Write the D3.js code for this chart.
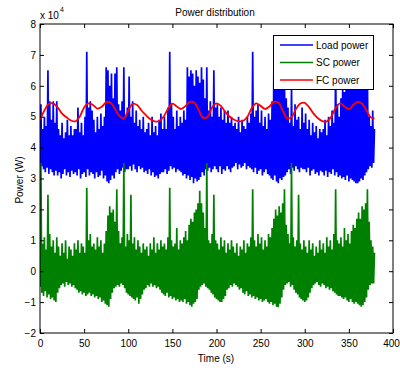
<!DOCTYPE html>
<html><head><meta charset="utf-8">
<script src="https://cdn.jsdelivr.net/npm/d3@7"></script>
<style>
body{margin:0;background:#fff;}
svg{display:block;font-family:"Liberation Sans",Arial,Helvetica,sans-serif;}
</style>
</head><body>
<svg id="chart" width="400" height="370"></svg>
<script>
// Values in units of 10^4 W; each 2-second bin gives a low and a high sample
const xTicks = [0, 50, 100, 150, 200, 250, 300, 350, 400];
const yTicks = [-2, -1, 0, 1, 2, 3, 4, 5, 6, 7, 8];
const seriesNames = ["Load power", "SC power", "FC power"];
const seriesColors = ["#0000ff", "#008000", "#ff0000"];

const loadLow = [
 3.5,3.4,3.3,3.2,3.35,3.15,3.3,3.2,3.1,3.25,
 3.1,3.2,3.0,3.15,3.3,3.1,3.2,3.05,3.25,3.15,
 3.2,3.1,3.3,3.0,3.15,3.2,3.05,3.3,3.1,3.2,
 3.15,3.0,3.2,3.05,3.1,3.25,3.0,3.1,2.9,2.85,
 2.95,3.1,3.0,3.2,3.3,3.15,3.25,3.35,3.2,3.3,
 3.3,3.4,3.25,3.45,3.3,3.2,3.4,3.3,3.35,3.2,
 3.25,3.15,3.3,3.1,3.2,3.05,3.1,3.0,3.15,3.2,
 3.2,3.3,3.15,3.25,3.4,3.3,3.35,3.2,3.3,3.25,
 3.2,3.1,3.15,3.0,3.1,2.95,3.05,2.85,3.0,2.9,
 2.95,3.05,3.2,3.1,3.3,3.25,3.35,3.2,3.3,3.4,
 3.3,3.2,3.4,3.15,3.3,3.25,3.4,3.3,3.2,3.35,
 3.4,3.5,3.3,3.45,3.35,3.4,3.5,3.3,3.4,3.35,
 3.3,3.2,3.35,3.15,3.25,3.3,3.1,3.2,3.3,3.15,
 3.1,3.0,2.95,3.1,2.9,2.85,3.0,2.95,3.05,3.1,
 3.2,3.3,3.15,3.35,3.25,3.4,3.3,3.2,3.35,3.3,
 3.3,3.2,3.35,3.1,3.25,3.3,3.15,3.2,3.1,3.25,
 3.2,3.1,3.25,3.05,3.2,3.15,3.3,3.1,3.2,3.05,
 3.1,3.0,3.05,2.95,3.1,2.9,3.0,2.95,2.9,2.85,
 2.85,2.9,3.0,2.95,3.1,3.2,3.3,3.4,3.35,3.5
];
const loadHigh = [
 5.4,4.6,5.0,4.7,6.5,5.5,4.9,5.5,4.8,5.5,
 4.6,4.4,4.8,4.3,4.5,4.9,4.4,4.7,4.4,4.6,
 4.6,5.3,4.5,4.8,4.4,5.0,7.1,5.3,5.5,5.2,
 4.9,4.5,5.0,4.6,5.1,4.7,5.0,6.6,6.5,6.0,
 6.4,5.6,6.4,6.6,5.4,5.2,5.5,6.6,5.0,5.3,
 6.3,5.0,5.5,4.8,5.2,4.7,4.9,4.6,5.0,4.5,
 4.6,4.8,4.4,5.0,4.5,4.7,4.4,4.9,5.1,4.6,
 5.0,4.6,5.3,7.1,5.4,5.0,4.6,5.2,4.7,5.0,
 4.8,5.2,4.9,6.6,6.3,6.5,6.4,6.0,6.5,6.3,
 6.1,6.6,6.2,5.6,6.6,5.2,5.5,5.0,6.5,5.3,
 5.4,5.0,5.3,4.9,5.2,4.8,5.2,4.8,5.0,4.7,
 4.8,4.6,5.0,4.5,4.9,4.7,4.6,5.0,4.8,5.1,
 7.1,5.0,5.2,5.4,4.8,5.2,4.7,5.0,4.6,5.1,
 4.9,5.5,6.6,6.0,6.4,6.2,6.5,5.9,6.3,5.6,
 5.3,4.8,6.0,4.7,5.4,4.9,5.0,4.6,5.3,4.8,
 5.1,4.6,4.9,4.4,4.8,4.5,4.7,4.3,4.6,4.5,
 4.6,4.9,4.4,5.0,4.7,5.2,4.8,6.8,5.4,5.0,
 5.6,6.0,5.8,6.4,6.1,6.6,6.2,6.5,6.3,6.6,
 6.4,6.2,6.5,6.0,5.9,6.3,5.0,4.7,5.2,4.6
];
const scLow = [
 -0.5,-0.7,-0.8,-0.65,-0.85,-0.75,-0.9,-0.85,-0.95,-1.0,
 -0.7,-0.55,-0.45,-0.4,-0.5,-0.35,-0.45,-0.4,-0.5,-0.45,
 -0.55,-0.6,-0.7,-0.65,-0.75,-0.7,-0.8,-0.75,-0.7,-0.8,
 -0.75,-0.85,-0.8,-0.9,-0.85,-1.0,-0.95,-1.05,-1.1,-1.15,
 -0.9,-0.7,-0.55,-0.5,-0.45,-0.5,-0.4,-0.45,-0.55,-0.7,
 -0.75,-0.8,-0.85,-0.9,-0.95,-0.85,-1.05,-0.9,-0.75,-0.6,
 -0.55,-0.45,-0.5,-0.4,-0.5,-0.45,-0.55,-0.5,-0.6,-0.7,
 -0.75,-0.8,-0.7,-0.85,-0.8,-0.9,-0.85,-0.95,-0.9,-1.0,
 -0.95,-1.0,-0.9,-1.05,-1.0,-1.1,-1.15,-1.05,-1.0,-0.9,
 -0.6,-0.5,-0.45,-0.4,-0.5,-0.55,-0.6,-0.7,-0.75,-0.85,
 -0.9,-0.95,-1.0,-1.0,-0.9,-0.8,-0.6,-0.55,-0.45,-0.5,
 -0.4,-0.45,-0.5,-0.6,-0.55,-0.7,-0.75,-0.65,-0.8,-0.75,
 -0.85,-0.8,-0.9,-0.85,-0.95,-0.9,-1.0,-0.95,-0.9,-1.0,
 -1.05,-1.0,-1.1,-1.05,-1.15,-1.17,-1.05,-0.85,-0.6,-0.45,
 -0.4,-0.35,-0.5,-0.45,-0.6,-0.7,-0.75,-0.85,-0.9,-0.95,
 -1.0,-0.95,-0.85,-0.7,-0.55,-0.45,-0.4,-0.35,-0.45,-0.5,
 -0.4,-0.45,-0.55,-0.5,-0.6,-0.55,-0.65,-0.7,-0.75,-0.8,
 -0.8,-0.85,-0.9,-0.85,-0.95,-1.0,-0.9,-1.0,-1.05,-1.0,
 -1.05,-1.1,-1.15,-1.1,-1.0,-0.85,-0.6,-0.45,-0.4,-0.4
];
const scHigh = [
 3.5,0.9,1.1,0.7,2.47,1.2,0.8,1.0,0.6,1.1,
 0.8,0.5,0.9,0.6,1.0,0.4,0.8,0.7,0.5,0.9,
 0.7,1.0,0.6,0.9,0.8,0.6,2.7,1.0,1.2,0.8,
 0.9,0.7,1.1,0.8,1.0,0.6,0.9,1.3,1.8,2.1,
 1.9,2.0,1.6,2.65,1.3,0.9,1.1,3.5,0.8,1.2,
 1.0,2.47,0.9,1.1,0.7,1.0,0.8,0.6,0.9,0.7,
 0.8,0.5,0.9,0.7,1.1,0.6,0.9,0.7,1.0,0.8,
 0.9,0.7,1.1,2.7,1.0,0.8,0.9,1.4,0.7,1.0,
 0.9,1.1,1.3,1.0,1.5,1.7,1.6,1.9,2.0,2.2,
 2.6,2.2,1.9,1.4,3.5,1.0,0.9,1.2,2.47,1.0,
 0.9,0.7,1.1,0.8,1.0,0.6,0.9,0.7,1.0,0.8,
 0.6,0.9,0.5,0.8,0.7,1.0,0.6,0.9,0.8,1.1,
 2.65,1.0,0.8,1.2,0.9,1.1,0.7,1.0,0.8,1.2,
 1.1,1.4,1.7,2.0,1.8,2.1,1.9,2.2,2.65,1.5,
 1.2,0.9,3.5,1.1,0.8,1.0,2.47,0.9,0.7,1.0,
 0.8,0.6,1.0,0.7,0.9,0.5,0.8,0.6,1.0,0.7,
 0.9,0.6,1.1,0.8,1.0,0.7,1.2,2.65,1.0,0.9,
 1.1,0.8,1.4,1.0,1.2,0.9,1.3,1.5,1.4,1.7,
 1.9,1.7,2.1,2.0,2.2,2.65,1.6,1.0,0.8,0.6
];
const fcTime = [0,5,10,15,20,25,30,35,40,45,50,55,60,65,70,75,80,85,90,95,
 100,105,110,115,120,125,130,135,140,145,150,155,160,165,170,175,180,185,190,195,
 200,205,210,215,220,225,230,235,240,245,250,255,260,265,270,275,280,285,290,295,
 300,305,310,315,320,325,330,335,340,345,350,355,360,365,370,375,379];
const fcValue = [4.90,5.20,5.42,5.43,5.30,5.10,4.98,4.88,4.85,5.00,5.30,5.43,5.38,5.26,5.32,5.47,5.45,5.25,5.02,4.95,
 5.20,5.42,5.38,5.20,5.05,4.92,4.85,4.86,5.00,5.25,5.42,5.33,5.25,5.35,5.48,5.45,5.20,4.96,5.00,5.30,
 5.43,5.35,5.15,5.00,4.90,4.85,4.86,5.00,5.28,5.43,5.35,5.25,5.33,5.48,5.46,5.20,4.95,4.98,5.25,5.43,
 5.45,5.30,5.10,4.95,4.86,4.85,5.00,5.28,5.43,5.33,5.25,5.38,5.48,5.42,5.20,4.97,4.95];

const svg = d3.select("#chart");
const W = 400, H = 370;
const pLeft = 40, pRight = 393, pTop = 24, pBottom = 333;
const x = d3.scaleLinear().domain([0, 400]).range([pLeft, pRight]);
const y = d3.scaleLinear().domain([-2, 8]).range([pBottom, pTop]);

svg.append("rect").attr("width", W).attr("height", H).attr("fill", "#fff");

svg.append("defs").append("clipPath").attr("id", "clip")
  .append("rect").attr("x", pLeft).attr("y", pTop).attr("width", pRight - pLeft).attr("height", pBottom - pTop);

const zig = (lo, hi) => lo.flatMap((v, i) => [{t: 2 * i, v: v}, {t: 2 * i + 1, v: hi[i]}]);
const loadSeries = zig(loadLow, loadHigh);
const scSeries = zig(scLow, scHigh);
const fcSeries = fcTime.map((t, i) => ({t: t, v: fcValue[i]}));

const line = d3.line().x(d => x(d.t)).y(d => y(d.v));
const smooth = d3.line().x(d => x(d.t)).y(d => y(d.v)).curve(d3.curveCatmullRom.alpha(0.5));

const plot = svg.append("g").attr("clip-path", "url(#clip)");
plot.append("path").datum(loadSeries).attr("d", line)
  .attr("fill", "none").attr("stroke", seriesColors[0]).attr("stroke-width", 1.7)
  .attr("stroke-linejoin", "bevel");
plot.append("path").datum(scSeries).attr("d", line)
  .attr("fill", "none").attr("stroke", seriesColors[1]).attr("stroke-width", 1.7)
  .attr("stroke-linejoin", "bevel");
plot.append("path").datum(fcSeries).attr("d", smooth)
  .attr("fill", "none").attr("stroke", seriesColors[2]).attr("stroke-width", 1.8);

// axes (MATLAB style: inward ticks, box)
const fs = "10px";
const gB = svg.append("g").attr("transform", `translate(0,${pBottom})`)
  .call(d3.axisBottom(x).tickValues(xTicks).tickSizeInner(-4).tickSizeOuter(0).tickPadding(7));
const gT = svg.append("g").attr("transform", `translate(0,${pTop})`)
  .call(d3.axisTop(x).tickValues(xTicks).tickSizeInner(-4).tickSizeOuter(0).tickFormat(""));
const gL = svg.append("g").attr("transform", `translate(${pLeft},0)`)
  .call(d3.axisLeft(y).tickValues(yTicks).tickSizeInner(-4).tickSizeOuter(0).tickPadding(4));
const gR = svg.append("g").attr("transform", `translate(${pRight},0)`)
  .call(d3.axisRight(y).tickValues(yTicks).tickSizeInner(-4).tickSizeOuter(0).tickFormat(""));
[gB, gT, gL, gR].forEach(g => {
  g.select(".domain").remove();
  g.selectAll("line").attr("stroke", "#000");
  g.selectAll("text").attr("fill", "#000").style("font-size", fs)
   .style("font-family", '"Liberation Sans",Arial,sans-serif');
});
// keep the last x label inside the canvas
gB.selectAll(".tick text").filter(d => d === 400).attr("dx", -2);
svg.append("rect").attr("x", pLeft).attr("y", pTop).attr("width", pRight - pLeft).attr("height", pBottom - pTop)
  .attr("fill", "none").attr("stroke", "#000").attr("stroke-width", 1);

// exponent label
const ex = svg.append("text").attr("x", 40).attr("y", 19).attr("font-size", "10px").attr("fill", "#000");
ex.append("tspan").text("x 10");
ex.append("tspan").attr("dy", -7).attr("dx", 1).attr("font-size", "7px").text("4");

// title and axis labels
svg.append("text").attr("x", 215).attr("y", 16).attr("text-anchor", "middle")
  .attr("font-size", "10px").attr("fill", "#000").text("Power distribution");
svg.append("text").attr("x", 216).attr("y", 362).attr("text-anchor", "middle")
  .attr("font-size", "10px").attr("fill", "#000").text("Time (s)");
svg.append("text").attr("transform", "translate(22.5,180) rotate(-90)").attr("text-anchor", "middle")
  .attr("font-size", "10px").attr("fill", "#000").text("Power (W)");

// legend
const lg = svg.append("g");
lg.append("rect").attr("x", 273.5).attr("y", 35.5).attr("width", 100).attr("height", 54)
  .attr("fill", "#fff").attr("stroke", "#000").attr("stroke-width", 1);
const ly = [45, 62.5, 80];
seriesNames.forEach((n, i) => {
  lg.append("line").attr("x1", 280).attr("x2", 313).attr("y1", ly[i]).attr("y2", ly[i])
    .attr("stroke", seriesColors[i]).attr("stroke-width", 1.5);
  lg.append("text").attr("x", 316).attr("y", ly[i] + 3.6).attr("font-size", "10px")
    .attr("fill", "#000").text(n);
});
</script>
</body></html>
